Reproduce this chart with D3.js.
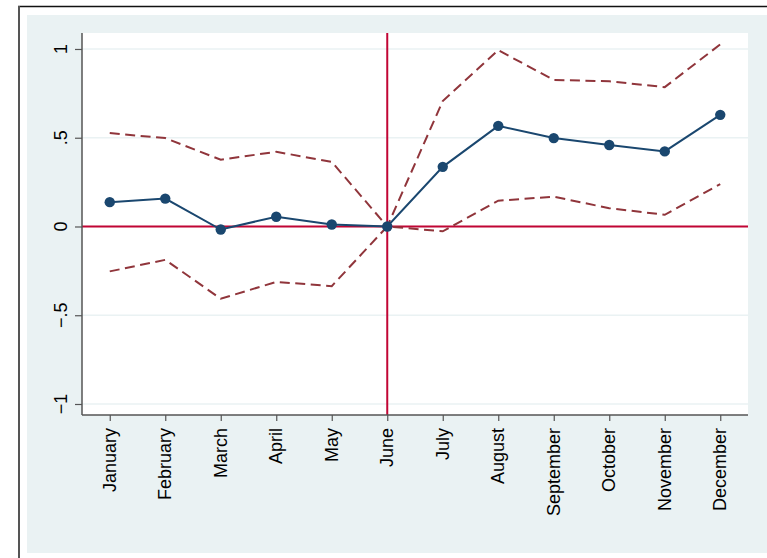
<!DOCTYPE html>
<html>
<head>
<meta charset="utf-8">
<script src="https://cdn.jsdelivr.net/npm/d3@7"></script>
<style>
  html, body { margin: 0; padding: 0; background: #ffffff; }
  svg { display: block; }
</style>
</head>
<body>
<svg id="chart" width="767" height="558"></svg>
<script>
// Monthly coefficient estimates with 95% confidence bounds (June is the reference month)
const months = ["January", "February", "March", "April", "May", "June",
                "July", "August", "September", "October", "November", "December"];
const estimate = [0.137, 0.157, -0.017, 0.055, 0.011, 0, 0.336, 0.567, 0.498, 0.459, 0.423, 0.629];
const upperCI  = [0.526, 0.498, 0.376, 0.421, 0.364, 0, 0.707, 0.993, 0.826, 0.818, 0.785, 1.026];
const lowerCI  = [-0.253, -0.188, -0.407, -0.312, -0.336, 0, -0.027, 0.145, 0.168, 0.103, 0.066, 0.239];
const yTicks = [-1, -0.5, 0, 0.5, 1];
const yTickLabels = ["\u22121", "\u2212.5", "0", ".5", "1"];
const refMonth = 6;

const FONT = "Arial, 'Liberation Sans', Helvetica, sans-serif";

const svg = d3.select("#chart");

// outer page frame
svg.append("rect").attr("x", 0).attr("y", 0).attr("width", 767).attr("height", 558).attr("fill", "#ffffff");
svg.append("rect").attr("x", 27).attr("y", 15).attr("width", 740).attr("height", 538).attr("fill", "#EAF2F3");
svg.append("line").attr("x1", 18).attr("x2", 767).attr("y1", 6.5).attr("y2", 6.5)
  .attr("stroke", "#111").attr("stroke-width", 1.5);
svg.append("line").attr("x1", 19).attr("x2", 19).attr("y1", 6).attr("y2", 558)
  .attr("stroke", "#555").attr("stroke-width", 2);

const plot = { left: 82, right: 748, top: 33, bottom: 415 };

const x = d3.scaleLinear().domain([0.5, 12.5]).range([plot.left, plot.right]);
const y = d3.scaleLinear().domain([-1.062, 1.090]).range([plot.bottom, plot.top]);

// plot region
svg.append("rect")
  .attr("x", plot.left).attr("y", plot.top)
  .attr("width", plot.right - plot.left).attr("height", plot.bottom - plot.top)
  .attr("fill", "#ffffff");

// horizontal grid lines
svg.append("g").selectAll("line").data(yTicks).join("line")
  .attr("x1", plot.left).attr("x2", plot.right)
  .attr("y1", d => y(d)).attr("y2", d => y(d))
  .attr("stroke", "#EAF2F3").attr("stroke-width", 1.5);

// reference lines at zero and at the reference month
svg.append("line")
  .attr("x1", plot.left).attr("x2", plot.right)
  .attr("y1", y(0)).attr("y2", y(0))
  .attr("stroke", "#C10534").attr("stroke-width", 2);
svg.append("line")
  .attr("x1", x(refMonth)).attr("x2", x(refMonth))
  .attr("y1", plot.top).attr("y2", plot.bottom)
  .attr("stroke", "#C10534").attr("stroke-width", 2);

// axes
const yAxis = svg.append("g")
  .attr("transform", `translate(${plot.left},0)`)
  .call(d3.axisLeft(y).tickValues(yTicks).tickSize(7).tickFormat(""));
const xAxis = svg.append("g")
  .attr("transform", `translate(0,${plot.bottom})`)
  .call(d3.axisBottom(x).tickValues(d3.range(1, 13)).tickSize(6).tickFormat(""));
[yAxis, xAxis].forEach(g => {
  g.select(".domain").attr("stroke", "#555").attr("stroke-width", 1.5);
  g.selectAll(".tick line").attr("stroke", "#555").attr("stroke-width", 1.2);
});
// stretch axis lines to the full plot region
yAxis.select(".domain").attr("d", `M0,${plot.top}V${plot.bottom}`);
xAxis.select(".domain").attr("d", `M${plot.left},0H${plot.right}`);

// y tick labels, rotated
svg.append("g").selectAll("text").data(yTicks).join("text")
  .attr("transform", d => `translate(67,${y(d)}) rotate(-90)`)
  .attr("text-anchor", "middle")
  .attr("font-family", FONT)
  .attr("font-weight", 400)
  .attr("font-size", 18)
  .attr("fill", "#000")
  .text((d, i) => yTickLabels[i]);

// month labels, rotated
svg.append("g").selectAll("text").data(months).join("text")
  .attr("transform", (d, i) => `translate(${x(i + 1) + 6},${plot.bottom + 13}) rotate(-90)`)
  .attr("text-anchor", "end")
  .attr("font-family", FONT)
  .attr("font-weight", 400)
  .attr("font-size", 18)
  .attr("fill", "#000")
  .text(d => d);

const line = d3.line().x((d, i) => x(i + 1)).y(d => y(d));

// confidence bounds
[upperCI, lowerCI].forEach(series => {
  svg.append("path")
    .datum(series)
    .attr("d", line)
    .attr("fill", "none")
    .attr("stroke", "#90353B")
    .attr("stroke-width", 2)
    .attr("stroke-dasharray", "10,5.5");
});

// point estimates
svg.append("path")
  .datum(estimate)
  .attr("d", line)
  .attr("fill", "none")
  .attr("stroke", "#1A476F")
  .attr("stroke-width", 2);
svg.append("g").selectAll("circle").data(estimate).join("circle")
  .attr("cx", (d, i) => x(i + 1))
  .attr("cy", d => y(d))
  .attr("r", 5.2)
  .attr("fill", "#1A476F");
</script>
</body>
</html>
